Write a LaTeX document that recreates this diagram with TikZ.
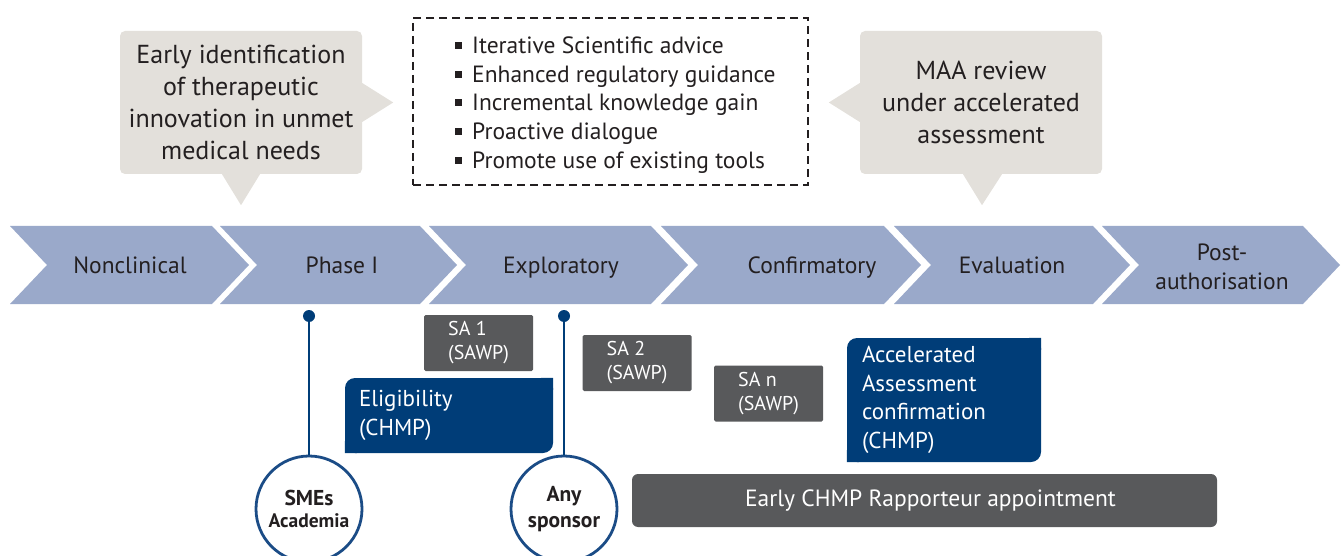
\documentclass[tikz,border=0pt]{standalone}
\usepackage{fontspec}
\setmainfont{PT Sans}
\usepackage{tikz}
\usetikzlibrary{positioning, calc}
\definecolor{ephase}{HTML}{9AA9CA}
\definecolor{ecallout}{HTML}{E3E0DB}
\definecolor{enavy}{HTML}{003D78}
\definecolor{eslate}{HTML}{58595B}
\definecolor{etext}{HTML}{231F20}
\definecolor{ering}{HTML}{1B4C86}
\newcommand\blt{{\color{etext}\rule[4.5pt]{7pt}{7pt}}\hspace{10pt}}
\tikzset{
  phaselbl/.style={text=etext, font=\fontsize{23.5}{29}\selectfont, align=center},
  callout/.style={fill=ecallout, rounded corners=5pt, text=etext, align=center,
                  minimum width=242pt, minimum height=143pt, inner sep=0pt,
                  font=\fontsize{26}{32}\selectfont},
  toolbox/.style={draw=etext, line width=2pt, dash pattern=on 8pt off 5pt,
                  minimum width=395pt, minimum height=167pt},
  toollist/.style={align=left, inner sep=0pt, text=etext,
                   font=\fontsize{23.5}{28.7}\selectfont},
  sabox/.style={fill=eslate, text=white, rounded corners=1.5pt, align=left,
                minimum width=109pt, minimum height=56pt, inner sep=0pt,
                font=\fontsize{20}{24}\selectfont},
  navybox/.style={fill=enavy, text=white, rounded corners=10pt, align=left,
                  inner xsep=14pt, inner ysep=0pt, font=\fontsize{23}{28.7}\selectfont,
                  append after command={\pgfextra{\fill[enavy, sharp corners]
                    ([xshift=-12pt]\tikzlastnode.north east) rectangle ([yshift=-12pt]\tikzlastnode.north east)
                    ([xshift=12pt]\tikzlastnode.south west) rectangle ([yshift=12pt]\tikzlastnode.south west);}}},
  bar/.style={fill=eslate, text=white, rounded corners=6pt, minimum width=585pt,
              minimum height=53pt, font=\fontsize{23.5}{28}\selectfont},
  ring/.style={circle, draw=ering, line width=2.8pt, fill=white, minimum size=106pt,
               inner sep=0pt, text=etext, align=center, font=\bfseries\fontsize{21.5}{26}\selectfont},
  pin/.style={circle, fill=enavy, minimum size=12pt, inner sep=0pt},
  stem/.style={enavy, line width=2.6pt},
}

\begin{document}
\begin{tikzpicture}[x=1pt, y=-1pt]
  \useasboundingbox (0,0) rectangle (1341,556);

  % development timeline
  \foreach \a/\b in {10/212, 220/420, 429/651, 661/884, 894/1093, 1102/1303}
    \fill[ephase] (\a,226) -- (\b,226) -- (\b+37,265) -- (\b,304) -- (\a,304) -- (\a+37,265) -- cycle;
  \node[phaselbl, anchor=base] (p1) at (130,273)  {Nonclinical};
  \node[phaselbl, anchor=base] (p2) at (342,273)  {Phase I};
  \node[phaselbl, anchor=base] (p3) at (561,273)  {Exploratory};
  \node[phaselbl, anchor=base] (p4) at (812,273)  {Confirmatory};
  \node[phaselbl, anchor=base] (p5) at (1012,273) {Evaluation};
  \node[phaselbl] (p6) at (1222,267) {Post-\\authorisation};

  % callouts above
  \node[callout] (early) at (241,102.5) {Early identification\\of therapeutic\\innovation in unmet\\medical needs};
  \fill[ecallout] ([yshift=19.5pt]early.east) -- ([xshift=31pt]early.east) -- ([yshift=-19.5pt]early.east) -- cycle;
  \fill[ecallout] ([xshift=-19pt]early.south) -- ([yshift=-31pt]early.south) -- ([xshift=19pt]early.south) -- cycle;

  \node[callout] (maa) at (981,102.5) {MAA review\\under accelerated\\assessment};
  \fill[ecallout] ([yshift=19.5pt]maa.west) -- ([xshift=-31pt]maa.west) -- ([yshift=-19.5pt]maa.west) -- cycle;
  \fill[ecallout] ([xshift=-18pt]maa.south) -- ([xshift=1pt,yshift=-31pt]maa.south) -- ([xshift=21pt]maa.south) -- cycle;

  \node[toolbox] (tools) at (610.5,101.5) {};
  \node[toollist, anchor=west] (advice) at (455,105) {\blt Iterative Scientific advice\\
    \blt Enhanced regulatory guidance\\ \blt Incremental knowledge gain\\
    \blt Proactive dialogue\\ \blt Promote use of existing tools};

  % procedures below
  \node[sabox] (sa1) at (478.5,343) {SA 1\\(SAWP)};
  \node[sabox] (sa2) at (637,363)   {SA 2\\(SAWP)};
  \node[sabox] (san) at (768.5,393.5) {SA n\\(SAWP)};
  \node[navybox, text width=180pt, minimum height=75pt] (elig) at (449,415.5) {Eligibility\\(CHMP)};
  \node[navybox, text width=164pt, inner xsep=15pt, minimum height=124pt] (accel) at (944,400)
    {Accelerated\\Assessment\\confirmation\\(CHMP)};
  \node[bar] (rapp) at (924.5,500.5) {\hspace*{12pt}Early CHMP Rapporteur appointment};

  % applicants
  \node[pin] (d1) at (309,316) {};
  \node[ring] (smes) at (309,509) {SMEs\\[-4pt]{\fontsize{19.5}{22}\selectfont Academia}};
  \draw[stem] (d1) -- (smes);
  \node[pin] (d2) at (564,316) {};
  \node[ring] (any) at (564,509) {Any\\sponsor};
  \draw[stem] (d2) -- (any);
\end{tikzpicture}
\end{document}
